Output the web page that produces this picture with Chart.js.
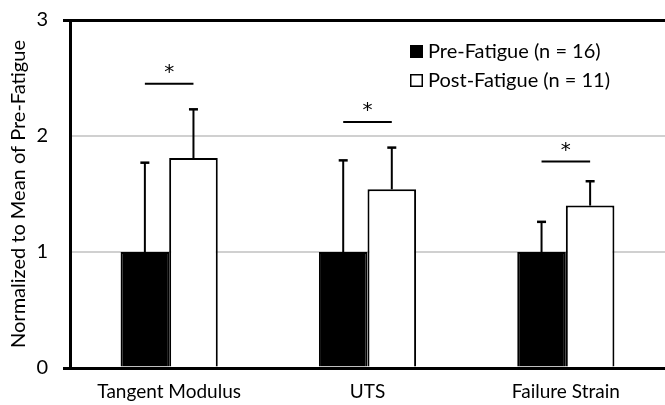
<!DOCTYPE html>
<html>
<head>
<meta charset="utf-8">
<script src="https://cdn.jsdelivr.net/npm/chart.js@4.4.0/dist/chart.umd.min.js"></script>
<style>
  html, body { margin: 0; padding: 0; background: #fff; }
  #wrap { width: 665px; height: 405px; }
</style>
</head>
<body>
<div id="wrap"><canvas id="chart"></canvas></div>
<script>
// values
const categories = ['Tangent Modulus', 'UTS', 'Failure Strain'];
const preFatigue = [1.0, 1.0, 1.0];
const postFatigue = [1.81, 1.54, 1.40];
const preErr = [0.77, 0.79, 0.26];
const postErr = [0.42, 0.36, 0.21];
const sigLevel = [2.45, 2.12, 1.78]; // height of the "*" bracket
const yTicks = [0, 1, 2, 3];

const FONT = 'Lato, "Open Sans", sans-serif';

// one-sided error bars, significance brackets and the legend
const extras = {
    id: 'extras',
    afterDatasetsDraw(chart) {
        const ctx = chart.ctx;
        const y = chart.scales.y;
        const errs = [preErr, postErr];
        ctx.save();
        ctx.strokeStyle = '#000';
        chart.data.datasets.forEach((ds, di) => {
            const meta = chart.getDatasetMeta(di);
            meta.data.forEach((bar, i) => {
                const top = y.getPixelForValue(ds.data[i] + errs[di][i]);
                ctx.lineWidth = 2;
                ctx.beginPath();
                ctx.moveTo(bar.x, bar.y);
                ctx.lineTo(bar.x, top);
                ctx.stroke();
                ctx.lineWidth = 2.5;
                ctx.beginPath();
                ctx.moveTo(bar.x - 4.5, top);
                ctx.lineTo(bar.x + 4.5, top);
                ctx.stroke();
            });
        });

        // significance brackets
        const m0 = chart.getDatasetMeta(0), m1 = chart.getDatasetMeta(1);
        ctx.fillStyle = '#000';
        ctx.font = '20px "DejaVu Sans", sans-serif';
        ctx.textAlign = 'center';
        ctx.textBaseline = 'middle';
        sigLevel.forEach((v, i) => {
            const x0 = m0.data[i].x, x1 = m1.data[i].x;
            const py = y.getPixelForValue(v);
            ctx.lineWidth = 2;
            ctx.beginPath();
            ctx.moveTo(x0, py);
            ctx.lineTo(x1, py);
            ctx.stroke();
            ctx.fillText('*', (x0 + x1) / 2, py - 11);
        });

        // legend
        const lx = 410, ly = 45, rowH = 29;
        ctx.font = '20px ' + FONT;
        ctx.textAlign = 'left';
        chart.data.datasets.forEach((ds, di) => {
            const by = ly + di * rowH;
            ctx.fillStyle = ds.backgroundColor;
            ctx.fillRect(lx, by, 13, 13);
            ctx.lineWidth = 1.5;
            ctx.strokeRect(lx + 0.75, by + 0.75, 11.5, 11.5);
            ctx.fillStyle = '#000';
            ctx.fillText(ds.label, lx + 18, by + 7);
        });
        ctx.restore();
    }
};

new Chart(document.getElementById('chart'), {
    type: 'bar',
    data: {
        labels: categories,
        datasets: [
            {
                label: 'Pre-Fatigue (n = 16)',
                data: preFatigue,
                backgroundColor: '#000',
                borderColor: '#000',
                borderWidth: 2
            },
            {
                label: 'Post-Fatigue (n = 11)',
                data: postFatigue,
                backgroundColor: '#fff',
                borderColor: '#000',
                borderWidth: 2
            }
        ]
    },
    plugins: [extras],
    options: {
        responsive: true,
        maintainAspectRatio: false,
        animation: false,
        layout: { padding: { top: 20, right: 0, bottom: 0, left: 0 } },
        datasets: {
            bar: { barPercentage: 1, categoryPercentage: 0.49 }
        },
        plugins: {
            legend: { display: false },
            tooltip: { enabled: false }
        },
        scales: {
            x: {
                grid: { display: false },
                border: { display: false },
                ticks: { color: '#000', font: { family: FONT, size: 19 }, padding: 4 },
                afterFit: (s) => { s.height = 37; }
            },
            y: {
                min: 0,
                max: 3,
                afterBuildTicks: (s) => { s.ticks = yTicks.map(v => ({ value: v })); },
                afterFit: (s) => { s.width = 70; s.paddingTop = 0; s.paddingBottom = 0; },
                grid: {
                    color: (c) => (c.tick && (c.tick.value === 0 || c.tick.value === 3)) ? '#000' : '#d0d0d0',
                    lineWidth: (c) => (c.tick && (c.tick.value === 0 || c.tick.value === 3)) ? 3 : 2,
                    tickColor: (c) => (c.tick && (c.tick.value === 0 || c.tick.value === 3)) ? '#000' : 'rgba(0,0,0,0)',
                    tickLength: 7
                },
                border: { display: true, color: '#000', width: 3 },
                ticks: { color: '#000', font: { family: FONT, size: 20 }, padding: 15 },
                title: {
                    display: true,
                    text: 'Normalized to Mean of Pre-Fatigue',
                    color: '#000',
                    font: { family: FONT, size: 20 },
                    padding: { top: 7, bottom: 0 }
                }
            }
        }
    }
});
</script>
</body>
</html>
